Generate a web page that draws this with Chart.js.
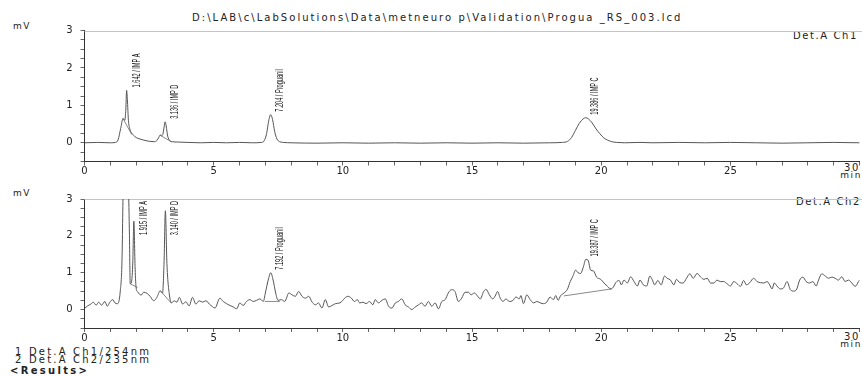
<!DOCTYPE html>
<html>
<head>
<meta charset="utf-8">
<script src="https://cdn.jsdelivr.net/npm/chart.js@4.4.1/dist/chart.umd.min.js"></script>
<style>
  html, body { margin: 0; padding: 0; background: #fff; overflow: hidden; }
  body { width: 862px; height: 376px; position: relative; }
  canvas { position: absolute; left: 0; }
  .t { position: absolute; white-space: pre; font-family: "DejaVu Sans", sans-serif; font-size: 9px; line-height: 10px; color: #222; letter-spacing: 1.6px; }
  .r { text-align: right; }
  .big { font-size: 10px; line-height: 11px; }
</style>
</head>
<body>
<div class="t big" style="left:192px; top:12px; letter-spacing:2.05px;">D:\LAB\c\LabSolutions\Data\metneuro p\Validation\Progua _RS_003.lcd</div>

<div class="t" style="left:13px; top:21px;">mV</div>
<div class="t r big" style="right:4px; top:30px; letter-spacing:1.6px;">Det.A Ch1</div>
<div class="t r big" style="right:2px; top:162px;">30</div>
<div class="t r" style="right:0px; top:170px;">min</div>

<div class="t" style="left:13px; top:188px;">mV</div>
<div class="t r big" style="right:1px; top:196px; letter-spacing:1.6px;">Det.A Ch2</div>
<div class="t r big" style="right:2px; top:331px;">30</div>
<div class="t r" style="right:0px; top:339px;">min</div>

<div class="t big" style="left:15px; top:346px; letter-spacing:2.2px;">1 Det.A Ch1/254nm</div>
<div class="t big" style="left:15px; top:354px; letter-spacing:2.2px;">2 Det.A Ch2/235nm</div>
<div class="t big" style="left:10px; top:365px; font-weight:bold; letter-spacing:2.3px;">&lt;Results&gt;</div>

<canvas id="ch1" width="880" height="185" style="top:0"></canvas>
<canvas id="ch2" width="880" height="160" style="top:185px"></canvas>

<script>
// Det.A Ch1 (254 nm) trace, time in min, signal in mV
const ch1Time = [0, 0.5, 1.0, 1.2, 1.3, 1.4, 1.49, 1.56, 1.6, 1.63, 1.66, 1.7, 1.75, 1.82, 1.9, 2.0, 2.15, 2.3, 2.5, 2.7,
  2.8, 2.88, 2.93, 2.98, 3.03, 3.08, 3.12, 3.16, 3.22, 3.3, 3.4, 3.6, 4.0, 4.5, 5, 5.5, 6, 6.5, 6.85, 6.95,
  7.05, 7.12, 7.2, 7.28, 7.36, 7.45, 7.55, 7.7, 8, 9, 10, 11, 12, 13, 14, 15, 16, 17, 18, 18.5,
  18.7, 18.85, 19.0, 19.15, 19.3, 19.4, 19.5, 19.65, 19.8, 19.95, 20.1, 20.25, 20.4, 20.6, 20.9, 21.5, 22, 23, 24, 25,
  26, 27, 28, 29, 30];
const ch1Signal = [0.0, 0.01, 0.0, 0.01, 0.08, 0.38, 0.65, 0.6, 0.9, 1.4, 1.15, 0.6, 0.38, 0.26, 0.2, 0.14, 0.1, 0.07, 0.04, 0.03,
  0.06, 0.15, 0.21, 0.19, 0.22, 0.42, 0.56, 0.45, 0.18, 0.06, 0.03, 0.02, 0.01, 0.0, 0.01, 0.0, 0.01, 0.0, 0.01, 0.05,
  0.25, 0.55, 0.75, 0.62, 0.3, 0.1, 0.03, 0.01, 0.0, -0.01, 0.0, -0.01, 0.0, -0.01, 0.0, -0.01, 0.0, -0.01, 0.0, 0.01,
  0.04, 0.14, 0.33, 0.52, 0.64, 0.67, 0.64, 0.53, 0.37, 0.24, 0.13, 0.07, 0.03, 0.01, 0.0, 0.01, 0.0, 0.01, 0.0, 0.01,
  0.0, -0.01, 0.0, 0.01, 0.0];

// Det.A Ch2 (235 nm) trace
const ch2Time = [0, 0.12, 0.25, 0.34, 0.45, 0.55, 0.66, 0.79, 0.88, 0.98, 1.09, 1.18, 1.27, 1.33, 1.38, 1.45, 1.5, 1.6, 1.7, 1.74,
  1.77, 1.82, 1.87, 1.91, 1.96, 2.0, 2.06, 2.19, 2.29, 2.42, 2.55, 2.68, 2.8, 2.93, 3.02, 3.08, 3.13, 3.19, 3.28, 3.37,
  3.47, 3.58, 3.67, 3.8, 3.92, 4.05, 4.18, 4.31, 4.44, 4.57, 4.7, 4.83, 4.95, 5.05, 5.24, 5.37, 5.5, 5.63, 5.76, 5.89,
  6.01, 6.14, 6.27, 6.4, 6.53, 6.66, 6.79, 6.92, 7.0, 7.11, 7.21, 7.3, 7.4, 7.49, 7.62, 7.75, 7.91, 8.03, 8.16, 8.29,
  8.42, 8.55, 8.68, 8.81, 8.94, 9.06, 9.19, 9.32, 9.45, 9.58, 9.71, 9.88, 10.0, 10.07, 10.2, 10.33, 10.45, 10.56, 10.65, 10.78,
  10.9, 11.03, 11.16, 11.25, 11.38, 11.51, 11.64, 11.77, 11.9, 12.03, 12.15, 12.28, 12.41, 12.54, 12.67, 12.8, 12.93, 13.05, 13.18, 13.31,
  13.44, 13.57, 13.7, 13.83, 13.96, 14.08, 14.21, 14.34, 14.47, 14.6, 14.73, 14.86, 14.96, 15.09, 15.22, 15.32, 15.45, 15.54, 15.67, 15.8,
  15.89, 15.99, 16.09, 16.2, 16.31, 16.44, 16.57, 16.7, 16.83, 16.89, 16.99, 17.12, 17.25, 17.38, 17.51, 17.64, 17.77, 17.89, 18.02, 18.15,
  18.24, 18.33, 18.43, 18.56, 18.69, 18.8, 18.9, 19.01, 19.1, 19.2, 19.31, 19.4, 19.49, 19.59, 19.7, 19.82, 19.98, 20.11, 20.24, 20.37,
  20.47, 20.56, 20.69, 20.78, 20.88, 21.01, 21.14, 21.27, 21.4, 21.5, 21.63, 21.76, 21.88, 21.97, 22.07, 22.19, 22.32, 22.45, 22.55, 22.68,
  22.81, 22.91, 23.04, 23.17, 23.3, 23.43, 23.56, 23.71, 23.84, 23.97, 24.1, 24.23, 24.36, 24.48, 24.61, 24.74, 24.87, 25.0, 25.13, 25.26,
  25.39, 25.51, 25.62, 25.75, 25.9, 26.03, 26.16, 26.29, 26.42, 26.52, 26.61, 26.7, 26.8, 26.93, 27.06, 27.19, 27.32, 27.45, 27.57, 27.68,
  27.81, 27.93, 28.06, 28.19, 28.32, 28.41, 28.54, 28.67, 28.8, 28.93, 29.05, 29.18, 29.31, 29.44, 29.57, 29.7, 29.83, 29.96, 30.0];
const ch2Signal = [0.03, 0.1, 0.15, 0.2, 0.12, 0.2, 0.12, 0.22, 0.09, 0.2, 0.27, 0.18, 0.16, 0.22, 0.47, 1.3, 3.4, 5.0, 3.4, 2.0,
  0.7, 0.75, 1.3, 2.4, 1.1, 0.58, 0.48, 0.39, 0.47, 0.44, 0.35, 0.24, 0.33, 0.51, 0.45, 1.3, 2.68, 1.25, 0.43, 0.18,
  0.24, 0.2, 0.33, 0.15, 0.21, 0.1, 0.33, 0.15, 0.24, 0.2, 0.24, 0.15, 0.08, 0.04, 0.31, 0.22, 0.16, 0.11, 0.07, 0.02,
  0.18, 0.11, 0.22, 0.27, 0.22, 0.25, 0.29, 0.22, 0.45, 0.8, 1.0, 0.8, 0.45, 0.25, 0.27, 0.22, 0.45, 0.4, 0.36, 0.49,
  0.36, 0.31, 0.36, 0.2, 0.13, 0.18, 0.04, 0.27, 0.07, 0.11, 0.16, 0.18, 0.25, 0.31, 0.36, 0.31, 0.22, 0.27, 0.18, 0.2,
  0.16, 0.22, 0.13, 0.27, 0.18, 0.25, 0.29, 0.09, 0.04, 0.18, 0.22, 0.29, 0.13, 0.07, 0.0, 0.07, 0.13, 0.18, 0.09, 0.22,
  0.09, 0.18, 0.02, 0.22, 0.27, 0.45, 0.54, 0.49, 0.22, 0.31, 0.47, 0.47, 0.4, 0.45, 0.36, 0.29, 0.49, 0.55, 0.4, 0.29,
  0.36, 0.49, 0.31, 0.22, 0.29, 0.22, 0.24, 0.34, 0.29, 0.38, 0.16, 0.4, 0.27, 0.18, 0.22, 0.18, 0.16, 0.2, 0.34, 0.27,
  0.38, 0.25, 0.38, 0.45, 0.55, 0.76, 0.9, 1.07, 1.0, 0.98, 1.16, 1.36, 1.34, 1.07, 1.05, 0.88, 0.82, 0.72, 0.63, 0.56,
  0.61, 0.73, 0.79, 0.67, 0.8, 0.72, 0.89, 0.76, 0.64, 0.8, 0.67, 0.64, 0.91, 0.82, 0.67, 0.79, 0.67, 0.91, 0.85, 0.8,
  0.67, 0.82, 0.73, 0.72, 0.85, 0.97, 0.85, 0.98, 0.89, 0.82, 0.85, 0.72, 0.72, 0.8, 0.76, 0.76, 0.7, 0.64, 0.76, 0.7,
  0.63, 0.79, 0.67, 0.73, 0.85, 0.76, 0.73, 0.72, 0.76, 0.67, 0.56, 0.72, 0.64, 0.56, 0.59, 0.76, 0.54, 0.5, 0.56, 0.8,
  0.88, 0.76, 0.72, 0.76, 0.64, 0.8, 0.97, 0.91, 0.85, 0.88, 0.85, 0.8, 0.89, 0.76, 0.8, 0.72, 0.63, 0.76, 0.8];

// identified peaks: retention time, name, apex height
const ch1PeakTimes = [1.642, 3.136, 7.204, 19.386];
const ch1PeakNames = ['IMP A', 'IMP D', 'Proguanil', 'IMP C'];
const ch1PeakHeights = [1.4, 0.56, 0.75, 0.67];
const ch2PeakTimes = [1.915, 3.140, 7.192, 19.387];
const ch2PeakNames = ['IMP A', 'IMP D', 'Proguanil', 'IMP C'];
const ch2PeakHeights = [2.4, 2.68, 1.0, 1.36];

// integration baselines [t0, v0, t1, v1]
const ch1Baselines = [[1.49, 0.65, 1.83, 0.22], [2.93, 0.2, 3.38, 0.02]];
const ch2Baselines = [[1.77, 0.7, 2.05, 0.6], [2.95, 0.5, 3.35, 0.18], [6.98, 0.22, 7.56, 0.22], [18.55, 0.37, 20.4, 0.56]];

const xTicksMin = 0, xTicksMax = 30;
const yTicksMin = -0.5, yTicksMax = 3;

const tickFont = { family: '"DejaVu Sans", sans-serif', size: 10 };

const peakLabels = {
  id: 'peakLabels',
  afterDatasetsDraw(chart, args, opts) {
    const { ctx, chartArea, scales: { x, y } } = chart;
    ctx.save();
    ctx.font = '10px "Liberation Sans", Arial, sans-serif';
    ctx.fillStyle = '#111';
    opts.times.forEach((t, i) => {
      const text = t.toFixed(3) + ' / ' + opts.names[i];
      const len = ctx.measureText(text).width * 0.56;
      const px = x.getPixelForValue(t) + 10;
      let py = y.getPixelForValue(Math.min(opts.heights[i], y.max)) - 3;
      if (py - len < chartArea.top + 2) py = chartArea.top + 2 + len;
      ctx.save();
      ctx.translate(px, py);
      ctx.rotate(-Math.PI / 2);
      ctx.scale(0.56, 1);
      ctx.textBaseline = 'middle';
      ctx.fillText(text, 0, 0);
      ctx.restore();
    });
    ctx.restore();
  }
};

const topFrame = {
  id: 'topFrame',
  beforeDatasetsDraw(chart) {
    const { ctx, chartArea } = chart;
    ctx.save();
    ctx.strokeStyle = '#c4c4c4';
    ctx.lineWidth = 1;
    ctx.beginPath();
    ctx.moveTo(chartArea.left, Math.round(chartArea.top) + 0.5);
    ctx.lineTo(chart.width, Math.round(chartArea.top) + 0.5);
    ctx.stroke();
    ctx.restore();
  }
};

function makeChart(id, times, signal, baselines, peaks, pad, xHeight) {
  const datasets = [{
    data: times.map((t, i) => ({ x: t, y: signal[i] })),
    borderColor: '#555',
    borderWidth: 1,
    pointRadius: 0,
    cubicInterpolationMode: 'monotone'
  }];
  baselines.forEach(b => datasets.push({
    data: [{ x: b[0], y: b[1] }, { x: b[2], y: b[3] }],
    borderColor: '#8a8a8a',
    borderWidth: 1,
    pointRadius: 0
  }));
  return new Chart(document.getElementById(id), {
    type: 'line',
    data: { datasets },
    options: {
      responsive: false,
      animation: false,
      events: [],
      layout: { padding: { top: pad.top, right: pad.right, bottom: 0, left: 0 } },
      plugins: { legend: { display: false }, tooltip: { enabled: false }, peakLabels: peaks },
      scales: {
        x: {
          type: 'linear', min: xTicksMin, max: xTicksMax,
          afterFit: s => { s.height = xHeight; },
          border: { display: true, color: '#333', width: 1 },
          grid: { drawOnChartArea: false, drawTicks: true, tickLength: 4, color: '#666' },
          ticks: {
            stepSize: 1, autoSkip: false, maxRotation: 0, padding: 0,
            color: '#222', font: tickFont,
            callback: v => (v % 5 === 0 && v < xTicksMax ? String(v) : '')
          }
        },
        y: {
          min: yTicksMin, max: yTicksMax,
          afterFit: s => { s.width = 84.5; },
          border: { display: true, color: '#333', width: 1 },
          grid: { drawOnChartArea: false, drawTicks: true, tickLength: 4, color: '#666' },
          ticks: {
            stepSize: 0.25, autoSkip: false, padding: 8,
            color: '#222', font: tickFont,
            callback: v => (Number.isInteger(v) ? String(v) : '')
          }
        }
      }
    },
    plugins: [topFrame, peakLabels]
  });
}

makeChart('ch1', ch1Time, ch1Signal, ch1Baselines,
  { times: ch1PeakTimes, names: ch1PeakNames, heights: ch1PeakHeights },
  { top: 30.5, right: 20.4 }, 23.5);
makeChart('ch2', ch2Time, ch2Signal, ch2Baselines,
  { times: ch2PeakTimes, names: ch2PeakNames, heights: ch2PeakHeights },
  { top: 13, right: 20.4 }, 17);
</script>
</body>
</html>
